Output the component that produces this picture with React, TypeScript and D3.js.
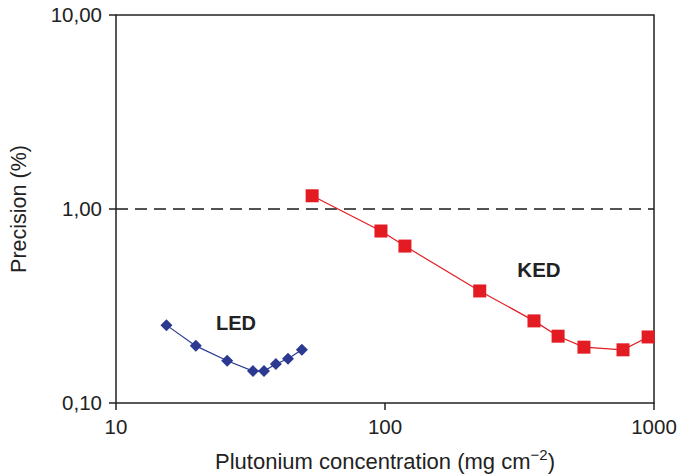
import React from "react";
import * as d3 from "d3";

// LED series (low-energy densitometry)
const ledConc = [15.4, 19.8, 25.9, 32.3, 35.5, 39.3, 43.6, 49.1];
const ledPrecision = [0.252, 0.197, 0.165, 0.146, 0.146, 0.159, 0.169, 0.188];

// KED series (K-edge densitometry)
const kedConc = [53.6, 96.6, 118.6, 225, 358, 440, 549, 767, 951];
const kedPrecision = [1.17, 0.77, 0.644, 0.378, 0.265, 0.221, 0.194, 0.188, 0.219];

const xTicks = [10, 100, 1000];
const xTickLabels = ["10", "100", "1000"];
const yTicks = [0.1, 1, 10];
const yTickLabels = ["0,10", "1,00", "10,00"];
const referenceLevel = 1;

const W = 677;
const H = 474;
const margin = { left: 116, right: 23, top: 15, bottom: 71 };
const FONT = "'Liberation Sans', Arial, Helvetica, sans-serif";

export default function App() {
  const x = d3
    .scaleLog()
    .domain([10, 1000])
    .range([margin.left, W - margin.right]);
  const y = d3
    .scaleLog()
    .domain([0.1, 10])
    .range([H - margin.bottom, margin.top]);

  const line = d3
    .line<[number, number]>()
    .x((d) => x(d[0]))
    .y((d) => y(d[1]));

  const led: [number, number][] = ledConc.map((c, i) => [c, ledPrecision[i]]);
  const ked: [number, number][] = kedConc.map((c, i) => [c, kedPrecision[i]]);

  const x0 = x(10);
  const x1 = x(1000);
  const y0 = y(0.1);
  const y1 = y(10);

  const sq = 13;
  const dm = 6;

  return (
    <svg
      width={W}
      height={H}
      style={{ position: "absolute", left: 0, top: 0, background: "#fff" }}
      fontFamily={FONT}
    >
      {/* dashed reference line at 1 % */}
      <line
        x1={x0}
        x2={x1}
        y1={y(referenceLevel)}
        y2={y(referenceLevel)}
        stroke="#1a1a1a"
        strokeWidth={1.5}
        strokeDasharray="12,7"
      />

      {/* frame */}
      <rect
        x={x0}
        y={y1}
        width={x1 - x0}
        height={y0 - y1}
        fill="none"
        stroke="#222"
        strokeWidth={1.5}
      />

      {/* y ticks */}
      {yTicks.map((t, i) => (
        <g key={"y" + t}>
          <line x1={x0 - 7} x2={x0} y1={y(t)} y2={y(t)} stroke="#222" strokeWidth={1.5} />
          <text
            x={x0 - 14}
            y={y(t)}
            dy="0.36em"
            textAnchor="end"
            fontSize={20.5}
            fill="#222"
          >
            {yTickLabels[i]}
          </text>
        </g>
      ))}

      {/* x ticks */}
      {xTicks.map((t, i) => (
        <g key={"x" + t}>
          <line x1={x(t)} x2={x(t)} y1={y0} y2={y0 + 7} stroke="#222" strokeWidth={1.5} />
          <text x={x(t)} y={y0 + 31} textAnchor="middle" fontSize={20.5} fill="#222">
            {xTickLabels[i]}
          </text>
        </g>
      ))}

      {/* axis titles */}
      <text x={(x0 + x1) / 2} y={H - 5} textAnchor="middle" fontSize={22} fill="#222">
        Plutonium concentration (mg cm
        <tspan dy={-9} fontSize={15}>
          −2
        </tspan>
        <tspan dy={9}>)</tspan>
      </text>
      <text
        transform={`translate(26,${(y0 + y1) / 2}) rotate(-90)`}
        textAnchor="middle"
        fontSize={21.5}
        fill="#222"
      >
        Precision (%)
      </text>

      {/* LED */}
      <path d={line(led) ?? ""} fill="none" stroke="#2b3990" strokeWidth={1.2} />
      {led.map((d, i) => {
        const cx = x(d[0]);
        const cy = y(d[1]);
        return (
          <path
            key={"l" + i}
            d={`M${cx},${cy - dm}L${cx + dm},${cy}L${cx},${cy + dm}L${cx - dm},${cy}Z`}
            fill="#2b3990"
          />
        );
      })}
      <text x={236} y={330} textAnchor="middle" fontSize={20} fontWeight="bold" fill="#222">
        LED
      </text>

      {/* KED */}
      <path d={line(ked) ?? ""} fill="none" stroke="#e31b23" strokeWidth={1.2} />
      {ked.map((d, i) => (
        <rect
          key={"k" + i}
          x={x(d[0]) - sq / 2}
          y={y(d[1]) - sq / 2}
          width={sq}
          height={sq}
          fill="#e31b23"
        />
      ))}
      <text x={539} y={277} textAnchor="middle" fontSize={20.5} fontWeight="bold" fill="#222">
        KED
      </text>
    </svg>
  );
}
